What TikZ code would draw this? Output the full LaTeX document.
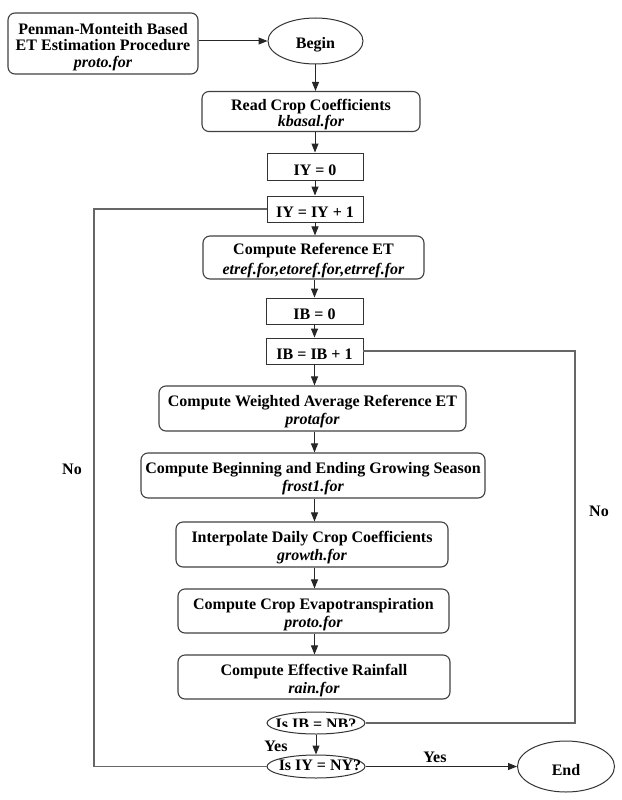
\documentclass[tikz,border=0pt]{standalone}
\usepackage{fontspec}
\setmainfont{Liberation Serif}
\usetikzlibrary{shapes.geometric,arrows.meta}
\newcommand\fname[1]{\textit{#1}}
\newcommand\lowr[1]{\raisebox{-3.5pt}[\height][\depth]{#1}}
\newcommand\twoln[3][0pt]{\lowr{\begin{tabular}{@{}c@{}}#2\\[#1]\fname{#3}\end{tabular}}}
\begin{document}
\begin{tikzpicture}[x=1pt,y=-1pt,
 every node/.style={font=\fontsize{16}{18}\selectfont\bfseries, inner sep=0pt},
 rbox/.style={draw=black!75, line width=1.1pt, rounded corners=7pt, align=center},
 sbox/.style={draw=black!80, line width=0.9pt},
 oval/.style={draw=black!80, line width=1pt, ellipse},
 arr/.style={draw=black!85, line width=1pt, -{Triangle[length=9pt,width=7pt]}},
 loopline/.style={draw=black!60, line width=1.2pt},
 lbl/.style={font=\fontsize{16}{18}\selectfont\bfseries}]
\useasboundingbox (0,0) rectangle (621,800);

% nodes
\node[rbox, minimum width=190pt, minimum height=61pt] (pm) at (103,43.5)
  {\lowr{\begin{tabular}{@{}c@{}}Penman-Monteith Based\\[-1.5pt]ET Estimation Procedure\\[-1.5pt]\fname{proto.for}\end{tabular}}};
\node[oval, minimum width=95pt, minimum height=46pt] (begin) at (315.5,41) {\lowr{Begin}};
\node[rbox, minimum width=218pt, minimum height=40pt] (read) at (311,111.5)
  {\raisebox{1pt}{\twoln[-2.5pt]{Read Crop Coefficients}{kbasal.for}}};
\node[sbox, minimum width=96pt, minimum height=27pt] (iy0) at (315,166.5) {\lowr{IY = 0}};
\node[sbox, minimum width=96pt, minimum height=26pt] (iy1) at (315,209) {\lowr{IY = IY + 1}};
\node[rbox, minimum width=221pt, minimum height=43pt] (ref) at (313.5,257.5)
  {\twoln[2pt]{Compute Reference ET}{etref.for,etoref.for,etrref.for}};
\node[sbox, minimum width=97pt, minimum height=26pt] (ib0) at (314.5,311) {\lowr{IB = 0}};
\node[sbox, minimum width=97pt, minimum height=26pt] (ib1) at (314.5,351) {\lowr{IB = IB + 1}};
\node[rbox, minimum width=307pt, minimum height=45pt] (wavg) at (312.5,408.5)
  {\twoln{Compute Weighted Average Reference ET}{protafor}};
\node[rbox, minimum width=344pt, minimum height=45pt] (season) at (313,475.5)
  {\twoln{Compute Beginning and Ending Growing Season}{frost1.for}};
\node[rbox, minimum width=272pt, minimum height=45pt] (interp) at (312,544.5)
  {\twoln{Interpolate Daily Crop Coefficients}{growth.for}};
\node[rbox, minimum width=271pt, minimum height=44pt] (evap) at (313.5,611)
  {\twoln{Compute Crop Evapotranspiration}{proto.for}};
\node[rbox, minimum width=272pt, minimum height=44pt] (rain) at (314,677)
  {\twoln{Compute Effective Rainfall}{rain.for}};
\node[oval, minimum width=98pt, minimum height=22pt] (isnb) at (316,723) {};
\begin{scope}
  \clip (250,700) rectangle (380,726);
  \node (isnbt) at (316,724.3) {Is IB = NB?};
\end{scope}
\node[oval, minimum width=98pt, minimum height=23pt] (isny) at (316,766.5) {};
\node (isnyt) at (320,765.5) {Is IY = NY?};
\node[oval, minimum width=97pt, minimum height=51pt] (end) at (566,766.5) {\lowr{End}};

% labels
\node[lbl] (no1) at (72,469) {No};
\node[lbl] (no2) at (599,511) {No};
\node[lbl] (yes1) at (276,746) {Yes};
\node[lbl] (yes2) at (435,757) {Yes};

% loop reference points
\coordinate (lx) at (94,400);
\coordinate (rx) at (575,400);

% arrows
\draw[arr] (pm.east |- begin.west) -- (begin.west);
\draw[arr] (begin.south) -- (begin.south |- read.north);
\draw[arr] (read.south -| iy0.north) -- (iy0.north);
\draw[arr] (iy0.south) -- (iy1.north);
\draw[arr] (iy1.south) -- (iy1.south |- ref.north);
\draw[arr] (ref.south -| ib0.north) -- (ib0.north);
\draw[arr] (ib0.south) -- (ib1.north);
\draw[arr] (ib1.south) -- (ib1.south |- wavg.north);
\draw[arr] (wavg.south -| ib1.south) -- (ib1.south |- season.north);
\draw[arr] (season.south -| ib1.south) -- (ib1.south |- interp.north);
\draw[arr] (interp.south -| ib1.south) -- (ib1.south |- evap.north);
\draw[arr] (evap.south -| ib1.south) -- (ib1.south |- rain.north);
\draw[arr] (isnb.south) -- (isny.north);
\draw[arr] (isny.east) -- (end.west);

% loops
\draw[loopline] (iy1.west) -- (iy1.west -| lx) |- (isny.west);
\draw[loopline] (ib1.east) -- (ib1.east -| rx) |- (isnb.east);
\end{tikzpicture}
\end{document}
